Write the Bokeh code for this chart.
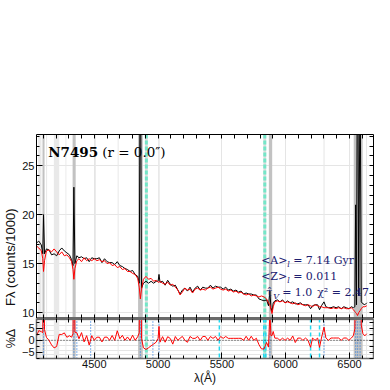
from bokeh.plotting import figure
from bokeh.models import Range1d, LinearAxis, FixedTicker, Span, Label, BoxAnnotation
from bokeh.layouts import column
from bokeh.embed import file_html
from bokeh.resources import INLINE

# ---------------- data ----------------
wave = [4047, 4065, 4085, 4096, 4102, 4110, 4125, 4145, 4165, 4185,
        4205, 4225, 4245, 4265, 4285, 4305, 4322, 4333, 4340, 4348,
        4363, 4380, 4400, 4420, 4440, 4460, 4480, 4500, 4520, 4540,
        4560, 4580, 4600, 4620, 4640, 4660, 4680, 4700, 4720, 4740,
        4760, 4780, 4800, 4820, 4840, 4852, 4861, 4870, 4885, 4905,
        4925, 4945, 4965, 4985, 5000, 5007, 5015, 5035, 5055, 5075,
        5095, 5115, 5135, 5155, 5172, 5190, 5210, 5230, 5250, 5270,
        5290, 5310, 5330, 5350, 5370, 5390, 5410, 5430, 5450, 5470,
        5490, 5510, 5530, 5550, 5570, 5590, 5610, 5630, 5650, 5670,
        5690, 5710, 5730, 5750, 5770, 5790, 5810, 5830, 5850, 5865,
        5876, 5884, 5893, 5902, 5915, 5935, 5955, 5975, 5995, 6015,
        6035, 6055, 6075, 6095, 6115, 6135, 6155, 6175, 6195, 6210,
        6230, 6250, 6265, 6280, 6300, 6315, 6335, 6355, 6375, 6395,
        6415, 6435, 6455, 6475, 6495, 6515, 6530, 6542, 6548, 6555,
        6563, 6572, 6583, 6592, 6605, 6620, 6635]

model_flux = [16.8, 16.6, 16.3, 15.5, 14.2, 15.3, 16.3, 16.4, 16.2, 16.5,
              16.2, 15.9, 16.2, 15.8, 15.9, 15.6, 15.2, 14.4, 13.4, 14.5,
              15.3, 15.5, 15.2, 15.6, 15.3, 15.5, 15.3, 15.5, 15.3, 15.4,
              15.2, 15.3, 15.0, 15.1, 14.8, 14.9, 14.6, 14.7, 14.4, 14.5,
              14.2, 14.2, 14.0, 13.9, 13.5, 12.6, 11.4, 12.4, 13.4, 13.7,
              13.4, 13.5, 13.2, 13.3, 13.1, 13.1, 13.2, 13.0, 12.9, 13.1,
              12.8, 12.9, 12.6, 12.3, 11.8, 12.1, 12.5, 12.3, 12.4, 12.0,
              12.4, 12.5, 12.3, 12.4, 12.3, 12.5, 12.6, 12.4, 12.5, 12.6,
              12.4, 12.3, 12.4, 12.2, 12.3, 12.1, 12.2, 12.0, 12.1, 11.9,
              11.8, 11.9, 11.7, 11.8, 11.7, 11.6, 11.7, 11.6, 11.4, 11.0,
              10.8, 10.3, 9.9, 10.6, 11.1, 11.2, 11.1, 11.2, 11.0, 11.1,
              11.0, 10.9, 11.0, 10.8, 10.9, 10.8, 10.7, 10.8, 10.7, 10.6,
              10.8, 10.7, 10.6, 10.6, 10.5, 10.5, 10.5, 10.4, 10.5, 10.4,
              10.5, 10.4, 10.5, 10.4, 10.4, 10.5, 10.3, 10.1, 10.0, 9.9,
              9.7, 10.0, 10.2, 10.4, 10.6, 10.6, 10.7]

obs_flux = [17.1, 17.3, 16.9, 16.0, 20.0, 16.0, 16.5, 16.4, 15.9, 16.0,
            15.8, 16.3, 16.6, 16.3, 16.1, 15.9, 15.4, 14.8, 22.8, 15.0,
            15.8, 15.6, 15.7, 15.5, 15.6, 15.2, 15.6, 15.5, 15.5, 15.6,
            15.1, 15.5, 15.2, 15.1, 15.1, 14.9, 15.2, 14.8, 14.7, 14.5,
            14.4, 14.2, 14.3, 13.9, 13.7, 13.0, 40.0, 12.5, 13.0, 13.2,
            13.0, 13.2, 13.0, 13.2, 13.2, 13.9, 13.1, 13.2, 12.8, 13.3,
            12.9, 12.7, 12.8, 12.3, 11.9, 12.3, 12.5, 12.2, 12.6, 12.1,
            12.5, 12.7, 12.3, 12.6, 12.5, 12.5, 12.8, 12.5, 12.7, 12.6,
            12.6, 12.4, 12.6, 12.3, 12.4, 12.2, 12.3, 12.1, 12.2, 11.9,
            12.0, 11.9, 11.9, 11.8, 11.8, 11.4, 11.3, 11.2, 11.3, 10.7,
            12.2, 10.5, 10.1, 11.0, 11.2, 11.3, 11.1, 11.3, 11.0, 11.2,
            11.0, 11.1, 10.9, 10.9, 11.0, 10.8, 10.8, 10.8, 10.4, 10.7,
            10.8, 10.8, 10.3, 10.7, 11.1, 10.6, 10.5, 10.5, 10.6, 10.5,
            10.6, 10.4, 10.6, 10.5, 10.4, 10.6, 10.5, 10.6, 21.0, 10.8,
            45.0, 11.7, 35.0, 11.1, 10.9, 10.8, 11.0]

# percentage residual of the fit
resid = [100.0 * (o - m) / o for o, m in zip(obs_flux, model_flux)]

# masked regions (Angstrom)
mask_light_lo = [4060, 4122, 4183, 4274, 4506, 4683, 5000, 6296, 6629]
mask_light_hi = [4086, 4130, 4225, 4281, 4513, 4691, 5013, 6305, 6637]
mask_dark_lo = [4094, 4330, 4843, 5868, 6533]
mask_dark_hi = [4110, 4354, 4880, 5894, 6603]
flag_band_center = [4908, 5836]
flag_band_half = 11
emission_lines = [4102, 4340, 4363, 4471, 4861, 4959, 5007, 5876, 6300, 6548, 6563, 6583]
sky_lines = [5480, 5828, 5844, 6195, 6265]

# ticks
x_major_ticks = [4500, 5000, 5500, 6000, 6500]
x_minor_ticks = list(range(4100, 6700, 100))
flux_major_ticks = [10, 15, 20, 25]
flux_minor_ticks = list(range(10, 29))
res_major_ticks = [-5, 0, 5]
res_minor_ticks = [-7.5, -5, -2.5, 0, 2.5, 5, 7.5]

age_text = "7.14 Gyr"
z_text = "0.011"
tau_text = "1.0"
chi2_text = "2.47"

# ---------------- style ----------------
TICK_FONT = "Liberation Sans"
SERIF = "DejaVu Serif"
NAVY = "#202070"
LIGHT = "#e9e9e9"
DARK = "#c2c2c2"
GRAYAX = "#6a6a6a"

xr = Range1d(4047, 6688)


def label_axis(ticks, minor, label=None, color="black", width=1):
    ax = LinearAxis(ticker=FixedTicker(ticks=ticks, minor_ticks=minor))
    if label:
        ax.axis_label = label
    ax.major_tick_in = 6
    ax.major_tick_out = 0
    ax.minor_tick_in = 3
    ax.minor_tick_out = 0
    ax.major_tick_line_color = "black"
    ax.minor_tick_line_color = "black"
    ax.axis_line_color = color
    ax.axis_line_width = width
    ax.major_label_text_font = TICK_FONT
    ax.major_label_text_font_size = "11px"
    ax.major_label_text_color = "#111111"
    ax.major_label_standoff = 2
    ax.axis_label_text_font = TICK_FONT
    ax.axis_label_text_font_size = "13px"
    ax.axis_label_text_font_style = "normal"
    ax.axis_label_text_color = "#111111"
    ax.axis_label_standoff = 1
    return ax


def tick_only_axis(positions, color="black", width=1):
    # an unlabeled edge: all tick marks drawn as (inward) minor ticks
    ax = LinearAxis(ticker=FixedTicker(ticks=[], minor_ticks=positions))
    ax.major_tick_in = 0
    ax.major_tick_out = 0
    ax.minor_tick_in = 4
    ax.minor_tick_out = 0
    ax.minor_tick_line_color = "black"
    ax.major_label_standoff = 0
    ax.axis_line_color = color
    ax.axis_line_width = width
    return ax


# ---------------- top panel ----------------
top = figure(width=374, height=318, x_range=xr, y_range=Range1d(9.4, 28.18),
             output_backend="svg", toolbar_location=None,
             x_axis_location=None, y_axis_location=None,
             min_border_top=134, min_border_bottom=0, min_border_left=32, min_border_right=1)
top.outline_line_color = None
top.background_fill_color = "white"
top.border_fill_color = "white"

top.add_layout(label_axis(flux_major_ticks, flux_minor_ticks,
                          "Fλ (counts/1000)" + "\u00a0" * 17), "left")
top.add_layout(tick_only_axis(flux_minor_ticks), "right")
top.add_layout(tick_only_axis(x_minor_ticks), "above")
top.add_layout(tick_only_axis(x_minor_ticks, GRAYAX, 3), "below")

# ---------------- residual panel ----------------
bot = figure(width=374, height=69, x_range=xr, y_range=Range1d(-7.5, 9.0),
             output_backend="svg", toolbar_location=None,
             x_axis_location=None, y_axis_location=None,
             min_border_top=0, min_border_bottom=28, min_border_left=32, min_border_right=1)
bot.outline_line_color = None
bot.background_fill_color = "white"
bot.border_fill_color = "white"

rax = label_axis(res_major_ticks, res_minor_ticks, "%Δ", GRAYAX, 1.5)
rax.axis_label_text_font_size = "12.5px"
bot.add_layout(rax, "left")
bot.add_layout(tick_only_axis(res_minor_ticks, GRAYAX, 1.5), "right")
bot.add_layout(tick_only_axis(x_minor_ticks, GRAYAX, 3), "above")
xax = label_axis(x_major_ticks, x_minor_ticks, "λ(Å)", GRAYAX, 1.5)
xax.major_label_standoff = 1
xax.axis_label_standoff = 0
xax.axis_label_text_font_size = "12px"
bot.add_layout(xax, "below")

# ---------------- masks (both panels) ----------------
for p in (top, bot):
    for lo, hi in zip(mask_light_lo, mask_light_hi):
        p.add_layout(BoxAnnotation(left=lo, right=hi, fill_color=LIGHT, fill_alpha=1,
                                   line_color=None, level="underlay"))
    for lo, hi in zip(mask_dark_lo, mask_dark_hi):
        p.add_layout(BoxAnnotation(left=lo, right=hi, fill_color=DARK, fill_alpha=1,
                                   line_color=None, level="underlay"))
    for c in flag_band_center:
        p.add_layout(BoxAnnotation(left=c - flag_band_half, right=c + flag_band_half,
                                   fill_color="#dcdcdc", fill_alpha=1,
                                   line_color=None, level="underlay"))
        p.add_layout(Span(location=c, dimension="height", line_color="#74e6c8",
                          line_width=3, line_dash="4 2", level="underlay"))

for w in emission_lines:
    bot.add_layout(Span(location=w, dimension="height", line_color="#2f7fe0",
                        line_width=1.2, line_dash="1 2", level="underlay"))
for w in sky_lines:
    bot.add_layout(Span(location=w, dimension="height", line_color="#22d8f0",
                        line_width=1.5, line_dash="4 3", level="underlay"))
bot.add_layout(Span(location=0, dimension="width", line_color="black",
                    line_width=0.8, line_dash="1 2", level="underlay"))

# ---------------- spectra ----------------
top.line(wave, obs_flux, line_color="black", line_width=1)
top.line(wave, model_flux, line_color="red", line_width=1)
bot.line(wave, resid, line_color="red", line_width=1)

# ---------------- annotations ----------------
def lab(p, x, y, text, size="11px", style="normal", color=NAVY, xo=0, yo=0, font=SERIF):
    p.add_layout(Label(x=x, y=y, text=text, text_font=font, text_font_size=size,
                       text_font_style=style, text_color=color, text_baseline="middle",
                       text_align="left", x_offset=xo, y_offset=yo))

lab(top, 4139, 26.4, "N7495", size="13.5px", style="bold", color="black")
lab(top, 4139, 26.4, "(r = 0.0″)", size="13.5px", color="black", xo=54)

AX = 5776
lab(top, AX, 15.3, "<A>", xo=4)
lab(top, AX, 15.3, "l", size="8px", style="italic", xo=30, yo=-4)
lab(top, AX, 15.3, "= " + age_text, xo=36)
lab(top, AX, 13.7, "<Z>", xo=4)
lab(top, AX, 13.7, "l", size="8px", style="italic", xo=30, yo=-4)
lab(top, AX, 13.7, "= " + z_text, xo=36)
lab(top, AX, 12.1, "τ̂", xo=9)
lab(top, AX, 12.1, "V", size="8px", style="italic", xo=16, yo=-4)
lab(top, AX, 12.1, "= " + tau_text, xo=25)
lab(top, AX, 12.1, "χ² = " + chi2_text, xo=60)

layout = column(top, bot, spacing=0)
open("out.html", "w").write(file_html(layout, INLINE))
